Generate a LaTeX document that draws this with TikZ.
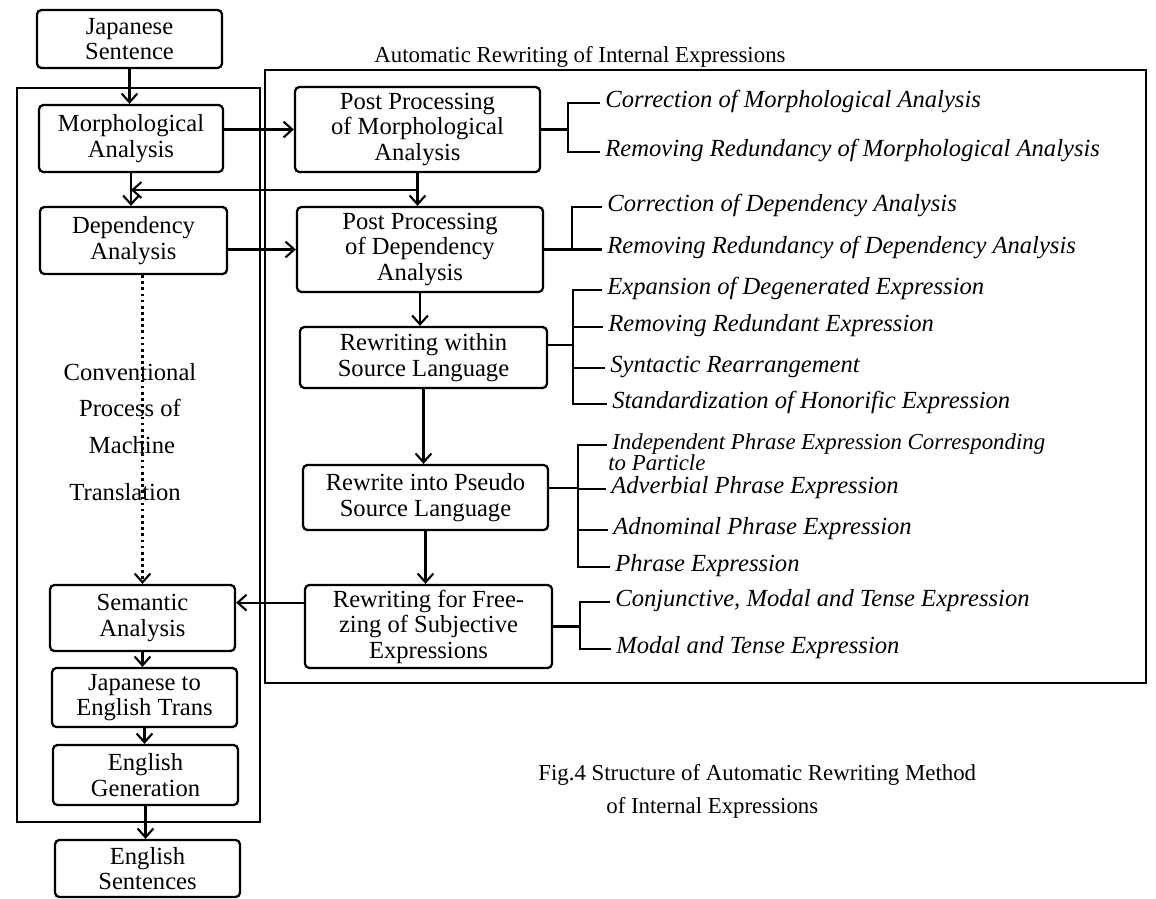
\documentclass[tikz,border=0pt]{standalone}
\usepackage{fontspec}
\setmainfont{Liberation Serif}
\usetikzlibrary{arrows.meta,calc}
\begin{document}
\begin{tikzpicture}[x=0.02cm,y=-0.02cm,
  box/.style={draw, line width=1.3pt, rounded corners=2.5pt, inner sep=0pt, align=center, font=\fontsize{14}{14.5}\selectfont},
  corners/.style n args={4}{at={({(#1+#3)/2},{(#2+#4)/2})}, minimum width={(#3-#1)*0.02cm}, minimum height={(#4-#2)*0.02cm}},
  frame/.style={draw, line width=1pt},
  arr/.style={line width=1.2pt, -{Straight Barb[length=5pt,width=9pt,line width=1.2pt]}},
  dotarr/.style={line width=1.5pt, dash pattern=on 1.5pt off 2pt, -{Straight Barb[length=5pt,width=9pt,line width=1.2pt,sep=0pt]}},
  ln/.style={line width=1.2pt},
  item/.style={anchor=mid west, inner sep=0pt, font=\fontsize{14}{14}\selectfont\itshape},
  lbl/.style={inner sep=0pt, font=\fontsize{13}{15}\selectfont},
  conv/.style={inner sep=0pt, font=\fontsize{14}{15}\selectfont}
]
\useasboundingbox (0,0) rectangle (1156,899);

% frames
\draw[frame] (17,88) rectangle (260,822);
\draw[frame] (265,70) rectangle (1146,683);
\node[lbl] (title) at (580,57) {Automatic Rewriting of Internal Expressions};

% left column
\node[box, corners={37}{10}{222}{68}] (js) {Japanese\\Sentence};
\node[box, corners={39}{105}{223}{172}] (ma) {Morphological\\Analysis};
\node[box, corners={40}{207}{227}{274}] (da) {Dependency\\Analysis};
\node[box, corners={50}{585}{235}{651}] (sa) {Semantic\\Analysis};
\node[box, corners={52}{668}{237}{727}] (jet) {Japanese to\\English Trans};
\node[box, corners={53}{745}{238}{805}] (eg) {English\\Generation};
\node[box, corners={55}{840}{240}{897}] (es) {English\\Sentences};

\node[conv] (c1) at (130,372) {Conventional};
\node[conv] (c2) at (130,408) {Process of};
\node[conv] (c3) at (132,445) {Machine};
\node[conv] (c4) at (125,492) {Translation};

% middle column
\node[box, corners={295}{87}{540}{172}] (ppm) {Post Processing\\of Morphological\\Analysis};
\node[box, corners={297}{207}{543}{292}] (ppd) {Post Processing\\of Dependency\\Analysis};
\node[box, corners={300}{327}{547}{388}] (rws) {Rewriting within\\Source Language};
\node[box, corners={303}{465}{548}{530}] (rps) {Rewrite into Pseudo\\Source Language};
\node[box, corners={305}{585}{552}{668}] (rfz) {Rewriting for Free-\\zing of Subjective\\Expressions};

% arrows
\draw[arr] (js.south) -- (js.south |- ma.north);
\draw[arr] (ma.south) -- (ma.south |- da.north);
\draw[dotarr] (da.south -| sa.north) -- (sa.north);
\draw[arr] (sa.south) -- (sa.south |- jet.north);
\draw[arr] (jet.south) -- (jet.south |- eg.north);
\draw[arr] (eg.south) -- (eg.south |- es.north);
\draw[arr] (ma.east |- ppm.west) -- (ppm.west);
\draw[arr] (da.east |- ppd.west) -- (ppd.west);
\draw[arr] (ppm.south) -- (ppm.south |- ppd.north);
\coordinate (j1) at (417,190);
\draw[arr] (j1) -- (j1 -| ma.south);
\draw[arr] (ppd.south) -- (ppd.south |- rws.north);
\draw[arr] (rws.south) -- (rws.south |- rps.north);
\draw[arr] (rps.south) -- (rps.south |- rfz.north);
\coordinate (f1) at ($(rfz.north west)!0.22!(rfz.south west)$);
\draw[arr] (f1) -- (f1 -| sa.east);

% bracket 1
\node[item] (i11) at (605,103) {Correction of Morphological Analysis};
\node[item] (i12) at (605,152) {Removing Redundancy of Morphological Analysis};
\coordinate (v1) at (568,0);
\draw[ln] (ppm.east) -- (v1 |- ppm.east);
\draw[ln] ([xshift=-3pt]i11.mid west) -- (v1 |- i11.mid west) -- (v1 |- i12.mid west) -- ([xshift=-3pt]i12.mid west);

% bracket 2
\node[item] (i21) at (607,207) {Correction of Dependency Analysis};
\node[item] (i22) at (607,249.5) {Removing Redundancy of Dependency Analysis};
\coordinate (v2) at (572,0);
\draw[ln] (ppd.east) -- (v2 |- ppd.east);
\draw[ln] ([xshift=-3pt]i21.mid west) -- (v2 |- i21.mid west) -- (v2 |- i22.mid west) -- ([xshift=-3pt]i22.mid west);

% bracket 3
\node[item] (i31) at (607,290) {Expansion of Degenerated Expression};
\node[item] (i32) at (608,327) {Removing Redundant Expression};
\node[item] (i33) at (610,368) {Syntactic Rearrangement};
\node[item] (i34) at (612,404) {Standardization of Honorific Expression};
\coordinate (v3) at (573,0);
\coordinate (s3) at ([yshift=7pt]rws.east);
\draw[ln] (s3) -- (v3 |- s3);
\draw[ln] ([xshift=-3pt]i31.mid west) -- (v3 |- i31.mid west) -- (v3 |- i34.mid west) -- ([xshift=-3pt]i34.mid west);
\draw[ln] (v3 |- i32.mid west) -- ([xshift=-3pt]i32.mid west);
\draw[ln] (v3 |- i33.mid west) -- ([xshift=-3pt]i33.mid west);

% bracket 4
\node[item, font=\fontsize{13}{13}\selectfont\itshape, text height=7pt, text depth=1.5pt] (i41) at (612,445) {Independent Phrase Expression Corresponding};
\node[item, font=\fontsize{13}{13}\selectfont\itshape, text height=7pt, text depth=1.5pt] (i41b) at (608,466) {to Particle};
\node[item] (i42) at (611,489) {Adverbial Phrase Expression};
\node[item] (i43) at (613,530) {Adnominal Phrase Expression};
\node[item] (i44) at (615,567) {Phrase Expression};
\coordinate (v4) at (578,0);
\coordinate (s4) at ([yshift=5.4pt]rps.east);
\draw[ln] (s4) -- (v4 |- s4);
\draw[ln] ([xshift=-3pt]i41.mid west) -- (v4 |- i41.mid west) -- (v4 |- i44.mid west) -- ([xshift=-3pt]i44.mid west);
\draw[ln] (v4 |- i42.mid west) -- ([xshift=-3pt]i42.mid west);
\draw[ln] (v4 |- i43.mid west) -- ([xshift=-3pt]i43.mid west);

% bracket 5
\node[item] (i51) at (615,602) {Conjunctive, Modal and Tense Expression};
\node[item] (i52) at (616,649) {Modal and Tense Expression};
\coordinate (v5) at (580,0);
\draw[ln] (rfz.east) -- (v5 |- rfz.east);
\draw[ln] ([xshift=-3pt]i51.mid west) -- (v5 |- i51.mid west) -- (v5 |- i52.mid west) -- ([xshift=-3pt]i52.mid west);

% caption
\node[lbl, anchor=west] (cap1) at (538,775) {Fig.4 Structure of Automatic Rewriting Method};
\node[lbl, anchor=west] (cap2) at (606,808) {of Internal Expressions};
\end{tikzpicture}
\end{document}
